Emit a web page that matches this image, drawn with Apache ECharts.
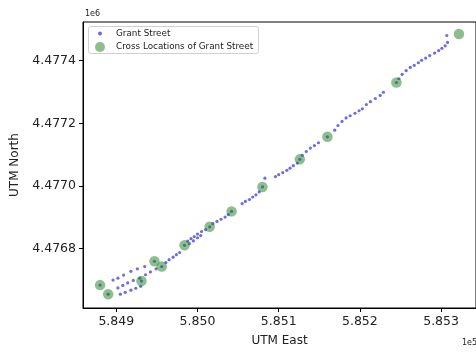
<!DOCTYPE html>
<html>
<head>
<meta charset="utf-8">
<script src="https://cdn.jsdelivr.net/npm/echarts@6/dist/echarts.min.js"></script>
<style>html,body{margin:0;padding:0;background:#fff}#c{width:476px;height:352px}</style>
</head>
<body>
<div id="c"></div>
<script>
// Grant Street points (UTM East / North, metres)
const streetEast = [
  584896,584902,584909,584918,584926,584935,
  584902,584908,584914,584921,584929,584936,584942,584949,
  584905,584911,584918,584924,584930,
  584880,584890,584931,584947,584956,
  584961,584965,584970,584974,584978,
  584984,
  584988,584992,584996,585000,585005,
  584990,584995,585000,585004,
  585010,585015,585019,585024,585029,585034,585038,
  585042,
  585055,585059,585064,585068,585072,585076,
  585080,
  585083,
  585096,585100,585105,585110,585114,585118,585123,
  585126,
  585129,585134,585139,585144,585149,
  585160,
  585169,585173,585178,585183,585188,585194,585199,585203,585208,585213,585219,585225,585229,
  585245,
  585248,585252,585257,585262,585267,585272,585276,585281,585286,585292,585297,585301,585305,585308,585307
];
const streetNorth = [
  4476700,4476706,4476716,4476728,4476736,4476743,
  4476675,4476683,4476691,4476699,4476706,4476717,4476726,4476736,
  4476655,4476661,4476668,4476674,4476680,
  4476684,4476655,4476697,4476760,4476743,
  4476756,4476765,4476773,4476781,4476788,
  4476811,
  4476824,4476832,4476839,4476847,4476855,
  4476816,4476825,4476835,4476842,
  4476861,4476870,4476880,4476887,4476894,4476901,4476909,
  4476919,
  4476944,4476951,4476957,4476965,4476972,4476981,
  4476997,
  4477025,
  4477030,4477036,4477043,4477050,4477057,4477065,4477073,
  4477085,
  4477098,4477110,4477121,4477129,4477138,
  4477157,
  4477178,4477193,4477206,4477217,4477224,4477232,4477240,4477246,4477260,4477269,4477279,4477289,4477299,
  4477330,
  4477342,4477356,4477368,4477378,4477385,4477393,4477401,4477408,4477416,4477424,4477432,4477439,4477447,4477458,4477480
];
// Cross locations of Grant Street
const crossEast  = [584880,584890,584931,584947,584956,584984,585015,585042,585080,585126,585160,585245,585322];
const crossNorth = [4476684,4476655,4476697,4476760,4476743,4476811,4476870,4476919,4476997,4477085,4477157,4477330,4477485];
// Tick values
const xTicks = [584900,585000,585100,585200,585300];
const yTicks = [4476800,4477000,4477200,4477400];
const seriesNames = ['Grant Street','Cross Locations of Grant Street'];

const streetData = streetEast.map((e,i)=>[e, streetNorth[i]]);
const crossData = crossEast.map((e,i)=>[e, crossNorth[i]]);

const FONT = 'DejaVu Sans';
const TXT = '#222';
const chart = echarts.init(document.getElementById('c'), null, {renderer:'canvas'});
chart.setOption({
  animation:false,
  backgroundColor:'#fff',
  textStyle:{fontFamily:FONT},
  grid:{left:83, top:22, right:-2, bottom:35, show:true, borderColor:'#000', borderWidth:1, backgroundColor:'transparent'},
  xAxis:{
    type:'value', min:584859, max:585343,
    name:'UTM East', nameLocation:'middle', nameGap:27,
    nameTextStyle:{fontFamily:FONT, fontSize:12, color:TXT},
    axisLine:{show:true, onZero:false, lineStyle:{color:'#000', width:1}},
    axisTick:{show:true, length:4, customValues:xTicks, lineStyle:{color:'#000'}},
    axisLabel:{customValues:xTicks, margin:7, fontFamily:FONT, fontSize:12.5, color:TXT,
      formatter:v=>(v/1e5).toFixed(3)},
    splitLine:{show:false}
  },
  yAxis:{
    type:'value', min:4476611, max:4477523,
    name:'UTM North', nameLocation:'middle', nameGap:61,
    nameTextStyle:{fontFamily:FONT, fontSize:12, color:TXT},
    axisLine:{show:true, onZero:false, lineStyle:{color:'#000', width:1}},
    axisTick:{show:true, length:4, customValues:yTicks, lineStyle:{color:'#000'}},
    axisLabel:{customValues:yTicks, margin:7, fontFamily:FONT, fontSize:12.5, color:TXT,
      formatter:v=>(v/1e6).toFixed(4)},
    splitLine:{show:false}
  },
  legend:[
    {data:[seriesNames[0]], orient:'vertical', left:98, top:29, padding:0,
     itemWidth:4, itemHeight:4, itemGap:0,
     textStyle:{fontFamily:FONT, fontSize:8.8, color:TXT, padding:[0,0,0,9]}, z:10},
    {data:[seriesNames[1]], orient:'vertical', left:95, top:42, padding:0,
     itemWidth:10, itemHeight:10, itemGap:0,
     textStyle:{fontFamily:FONT, fontSize:8.8, color:TXT, padding:[0,0,0,6]}, z:10}
  ],
  graphic:[
    {type:'rect', z:5, shape:{x:88.5, y:26.5, width:170, height:27, r:2},
     style:{fill:'rgba(255,255,255,0.85)', stroke:'#d0d0d0', lineWidth:1}},
    {type:'text', left:85, top:10, style:{text:'1e6', fontFamily:FONT, fontSize:8, fill:TXT}},
    {type:'text', left:462, top:339, style:{text:'1e5', fontFamily:FONT, fontSize:8, fill:TXT}}
  ],
  series:[
    {name:seriesNames[0], type:'scatter', data:streetData, symbol:'circle', symbolSize:3.2,
     itemStyle:{color:'#5252e6', opacity:0.85}, z:2},
    {name:seriesNames[1], type:'scatter', data:crossData, symbol:'circle', symbolSize:10.5,
     itemStyle:{color:'#1e7d1e', opacity:0.5}, z:3}
  ]
});
</script>
</body>
</html>
